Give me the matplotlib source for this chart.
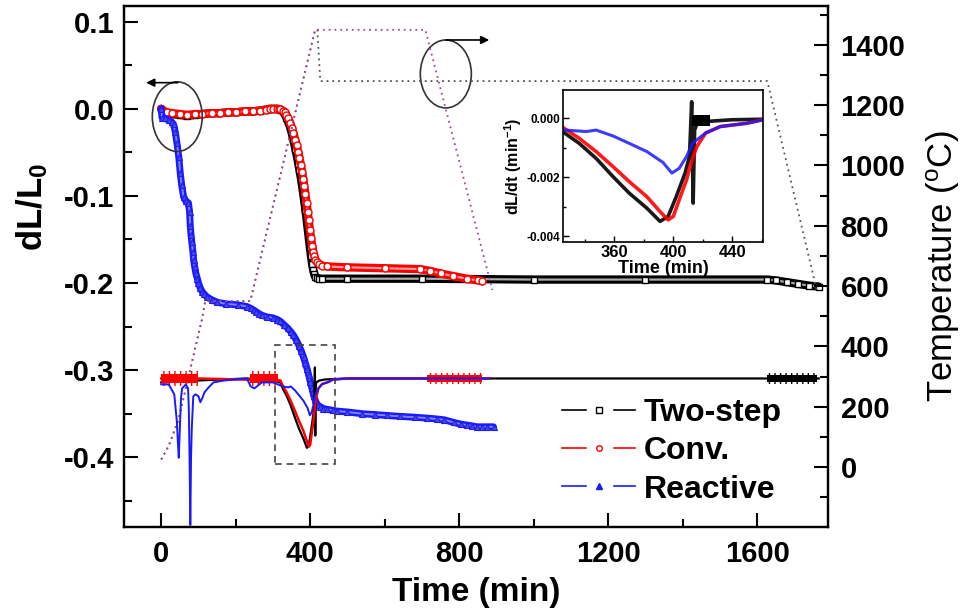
import numpy as np
import matplotlib
matplotlib.use('Agg')
import matplotlib.pyplot as plt
from matplotlib.patches import Ellipse, Rectangle
from matplotlib.lines import Line2D
from matplotlib.legend_handler import HandlerTuple
from matplotlib.ticker import MultipleLocator, FormatStrFormatter

plt.rcParams['font.family'] = ['Liberation Sans', 'DejaVu Sans']
plt.rcParams['font.weight'] = 'bold'
plt.rcParams['mathtext.fontset'] = 'custom'
plt.rcParams['mathtext.rm'] = 'Liberation Sans:bold'
plt.rcParams['mathtext.bf'] = 'Liberation Sans:bold'
plt.rcParams['mathtext.it'] = 'Liberation Sans:bold'
plt.rcParams['hatch.linewidth'] = 1.0

# ---------------- shrinkage dL/L0 ----------------
two_t = [0, 5, 15, 30, 50, 69, 90, 110, 135, 158, 180, 200, 225, 247, 265, 280, 292, 301, 310, 316,
         320, 326, 331, 336, 341, 346, 351, 355, 360, 364, 368, 371, 375, 378, 381, 384, 387, 390,
         393, 396, 399, 402, 405, 408, 411, 414, 418, 424, 432, 500, 700, 1000, 1300, 1627, 1650,
         1680, 1710, 1740, 1765]
two_v = [0.0, -0.003, -0.005, -0.006, -0.007, -0.008, -0.007, -0.006, -0.005, -0.005, -0.004, -0.004,
         -0.003, -0.003, -0.002, -0.001, 0.0, 0.0, 0.0, -0.0003,
         -0.001, -0.003, -0.006, -0.010, -0.015, -0.021, -0.029, -0.036, -0.046, -0.054, -0.063, -0.070,
         -0.080, -0.088, -0.097, -0.106, -0.116, -0.126, -0.137, -0.148, -0.159, -0.169, -0.178, -0.185,
         -0.190, -0.193, -0.194, -0.195, -0.195, -0.195, -0.195, -0.196, -0.196, -0.196, -0.197,
         -0.199, -0.201, -0.203, -0.204]

conv_t = [0, 5, 15, 30, 50, 69, 90, 110, 135, 158, 180, 200, 225, 247, 265, 280, 292, 301, 310, 316,
          320, 326, 331, 336, 341, 346, 351, 355, 360, 364, 368, 371, 375, 378, 381, 384, 387, 390,
          393, 396, 399, 402, 405, 408, 411, 414, 418, 424, 432, 445, 500, 600, 695, 722, 750, 784,
          820, 851, 862]
conv_v = [0.0, -0.002, -0.004, -0.005, -0.006, -0.007, -0.006, -0.006, -0.005, -0.005, -0.004, -0.004,
          -0.003, -0.003, -0.002, -0.001, 0.0, 0.0, 0.0, -0.0002,
          -0.0005, -0.002, -0.004, -0.007, -0.011, -0.016, -0.022, -0.028, -0.036, -0.042, -0.050,
          -0.056, -0.065, -0.072, -0.080, -0.089, -0.098, -0.108, -0.118, -0.128, -0.139, -0.148,
          -0.157, -0.164, -0.169, -0.173, -0.176, -0.178, -0.180, -0.181, -0.182, -0.183, -0.184,
          -0.186, -0.189, -0.192, -0.195, -0.197, -0.198]

reac_t = [0, 2, 10, 20, 28, 33, 38, 42, 47, 51, 55, 60, 66, 73, 76, 78, 80, 82, 85, 87, 90, 93, 97,
          100, 105, 110, 116, 123, 135, 150, 175, 205, 230, 240, 248, 255, 262, 270, 285, 300, 312,
          320, 330, 340, 348, 355, 362, 370, 376, 382, 387, 392, 396, 400, 404, 407, 410, 413, 417,
          420, 427, 435, 445, 460, 472, 500, 540, 575, 606, 640, 680, 713, 740, 760, 785, 805, 820,
          835, 847, 860, 875, 892]
reac_v = [0.0, -0.010, -0.011, -0.013, -0.015, -0.018, -0.027, -0.039, -0.055, -0.074, -0.088, -0.101,
          -0.106, -0.108, -0.118, -0.135, -0.145, -0.153, -0.164, -0.174, -0.182, -0.189, -0.195,
          -0.200, -0.206, -0.210, -0.213, -0.216, -0.219, -0.222, -0.224, -0.225, -0.227, -0.229,
          -0.231, -0.233, -0.235, -0.237, -0.239, -0.240, -0.242, -0.244, -0.248, -0.252, -0.256,
          -0.260, -0.265, -0.272, -0.278, -0.285, -0.292, -0.299, -0.306, -0.313, -0.320, -0.325,
          -0.330, -0.334, -0.338, -0.340, -0.342, -0.344, -0.345, -0.346, -0.347, -0.348, -0.350,
          -0.351, -0.352, -0.353, -0.354, -0.355, -0.356, -0.357, -0.360, -0.362, -0.363, -0.364,
          -0.365, -0.365, -0.365, -0.365]

# ---------------- temperature programmes ----------------
conv_T_t = [0, 20, 46, 80, 109, 118, 239, 413, 709, 889]
conv_T = [25, 70, 156, 335, 488, 550, 550, 1450, 1450, 587]
two_T_t = [0, 20, 46, 80, 109, 118, 239, 413, 419, 427, 1627, 1761]
two_T = [25, 70, 156, 335, 488, 550, 550, 1450, 1450, 1280, 1280, 580]

# ---------------- shrinkage rate dL/dt (min^-1) ----------------
two_r_t = [0, 100, 230, 320, 326, 336, 347.5, 359, 370, 382, 391, 396.5, 402, 408, 411, 412.5,
           413.5, 414.5, 416, 425, 440, 500, 1765]
two_r = [-0.0002, -0.0001, 0.0, -0.0002, -0.0005, -0.00085, -0.00136, -0.00198, -0.00254, -0.00305,
         -0.0035, -0.00333, -0.00266, -0.00186, -0.0013, 0.00056, -0.00288, -0.0004, -0.0002,
         -0.0001, -0.00005, 0.0, 0.0]

conv_r_t = [0, 100, 320, 326, 336, 347.5, 359, 370, 382, 391, 396.5, 400, 404, 409, 412, 416, 422,
            432, 450, 460, 500, 880]
conv_r = [0.0, 0.0, -0.0001, -0.00035, -0.00068, -0.00113, -0.00164, -0.00215, -0.00266, -0.00317,
          -0.00345, -0.00333, -0.00277, -0.00209, -0.00153, -0.00096, -0.0005, -0.00028, -0.00017,
          -0.00006, 0.0, 0.0]

reac_r_t = [0, 20, 35, 42, 44, 47, 50, 53, 56, 66, 72, 74, 76, 78, 80, 82, 86, 92, 100, 105, 110,
            116, 125, 140, 170, 230, 240, 250, 270, 300, 326, 341, 347.5, 359, 370, 382, 393, 399,
            404, 409, 413, 422, 432, 450, 460, 500, 880]
reac_r = [-0.0003, -0.0003, -0.0008, -0.0022, -0.0030, -0.0040, -0.0025, -0.0010, -0.0005, -0.0003,
          -0.0005, -0.0015, -0.0040, -0.0074, -0.0040, -0.0025, -0.0009, -0.0008, -0.0009, -0.0012,
          -0.0010, -0.0007, -0.0005, -0.0002, -0.0001, 0.0, -0.0004, -0.0005, -0.0002, -0.0002,
          -0.0004, -0.00045, -0.0004, -0.0006, -0.00085, -0.00113, -0.0015, -0.00186, -0.0017,
          -0.0013, -0.00085, -0.0005, -0.00028, -0.00017, -0.00006, 0.0, 0.0]

# noisy stretches of the rate curves (start, end, half-amplitude)
conv_noise_start = [0, 237, 713]
conv_noise_end = [100, 313, 861]
conv_noise_amp = [0.0004, 0.0004, 0.0003]
two_noise_start = [1627]
two_noise_end = [1761]
two_noise_amp = [0.0003]

x_ticks = [0, 400, 800, 1200, 1600]
y_ticks = [0.1, 0.0, -0.1, -0.2, -0.3, -0.4]
T_ticks = [0, 200, 400, 600, 800, 1000, 1200, 1400]
inset_x_ticks = [360, 400, 440]
inset_y_ticks = [-0.004, -0.002, 0.0]

labels = ['Two-step', 'Conv.', 'Reactive']

W, H = 961, 613
fig = plt.figure(figsize=(W / 100, H / 100), dpi=100)
ax = fig.add_axes([124 / W, 1 - 527 / H, (828 - 124) / W, (527 - 6) / H])
ax2 = ax.twinx()
ax3 = ax.twinx()

ax.set_xlim(-100, 1790)
ax.set_ylim(-0.48, 0.118)
ax2.set_ylim(-199, 1529)
ax3.set_ylim(-0.007495, 0.018795)
ax3.axis('off')

# temperature
ax2.plot(two_T_t, two_T, color='#555555', lw=1.3, ls=(0, (1, 2.2)))
ax2.plot(conv_T_t, conv_T, color='#a04a9a', lw=1.3, ls=(0, (1, 2.2)))

# rate curves on the hidden axis (noisy stretches drawn as a solid core + hatched fringe)
def noise(starts, ends, amps, c, z):
    for (s, e, a) in zip(starts, ends, amps):
        ax3.fill_between([s, e], [-a * 0.6, -a * 0.6], [a * 0.6, a * 0.6], color=c, lw=0, zorder=z)
        ax3.fill_between([s, e], [-a, -a], [a, a], facecolor='none', edgecolor=c, hatch='|||',
                         lw=0, zorder=z)

noise(two_noise_start, two_noise_end, two_noise_amp, 'black', 2)
ax3.plot(two_r_t, two_r, color='black', lw=1.6, zorder=2)
noise(conv_noise_start, conv_noise_end, conv_noise_amp, '#ff0000', 3)
ax3.plot(conv_r_t, conv_r, color='#ff0000', lw=1.8, zorder=3)
ax3.plot(reac_r_t, reac_r, color='#1a1aff', lw=1.4, zorder=4)

# shrinkage curves (dense open symbols look like hollow tubes)
def tube(t, v, c, light, mk, mfc, z):
    ax.plot(t, v, color=c, lw=6, zorder=z, solid_capstyle='round', solid_joinstyle='round')
    ax.plot(t, v, color=light, lw=1.6, zorder=z, alpha=0.8)
    ax.plot(t, v, ls='none', marker=mk, ms=5, mfc=mfc, mec=c, mew=1.0, zorder=z)

tube(two_t, two_v, 'black', '#d8d8d8', 's', 'white', 5)
tube(conv_t, conv_v, '#ff0000', '#ffc8c8', 'o', 'white', 6)
ax.plot(reac_t, reac_v, color='#1a1aff', lw=5, zorder=7, solid_capstyle='round')
ax.plot(reac_t, reac_v, color='#9aa0ff', lw=1.4, zorder=7, alpha=0.8)
ax.plot(reac_t, reac_v, ls='none', marker='^', ms=5, mfc='#4a4ad0', mec='#1a1aff', mew=0.8, zorder=7)

# axes styling
for a in (ax, ax2):
    for sp in a.spines.values():
        sp.set_linewidth(1.6)
ax.set_xticks(x_ticks)
ax.xaxis.set_minor_locator(MultipleLocator(200))
ax.set_yticks(y_ticks)
ax.yaxis.set_minor_locator(MultipleLocator(0.05))
ax.yaxis.set_major_formatter(FormatStrFormatter('%.1f'))
ax2.set_yticks(T_ticks)
ax2.yaxis.set_minor_locator(MultipleLocator(100))
ax.tick_params(which='both', direction='in', width=1.5, top=False, right=False)
ax.tick_params(which='major', length=10, labelsize=21, pad=7)
ax.tick_params(which='minor', length=6)
ax.tick_params(axis='x', which='major', pad=9)
ax2.tick_params(which='both', direction='in', width=1.5)
ax2.tick_params(which='major', length=10, labelsize=21, pad=9)
ax2.tick_params(which='minor', length=6)

ax.set_xlabel('Time (min)', fontsize=24, fontweight='bold', labelpad=7)
ax.set_ylabel(r'dL/L$_{\mathbf{0}}$', fontsize=25, fontweight='bold')
ax.yaxis.set_label_coords(-0.105, 0.615)
ax2.set_ylabel(r'Temperature ($\mathregular{^o}$C)', fontsize=25, fontweight='normal', labelpad=14)

# annotations
ax.add_patch(Ellipse((43, -0.009), 134, 0.080, fill=False, ec='#333333', lw=1.2, zorder=9))
ax.annotate('', xy=(-48, 0.030), xytext=(52, 0.030),
            arrowprops=dict(arrowstyle='-|>', color='black', lw=1.2, mutation_scale=12), zorder=9)
ax.add_patch(Ellipse((764, 0.040), 137, 0.078, fill=False, ec='#333333', lw=1.2, zorder=9))
ax.annotate('', xy=(888, 0.079), xytext=(757, 0.079),
            arrowprops=dict(arrowstyle='-|>', color='black', lw=1.2, mutation_scale=12), zorder=9)
ax.add_patch(Rectangle((306, -0.408), 161, 0.137, fill=False, ec='#444444', lw=1.2,
                       ls=(0, (4, 3)), zorder=9))

# legend (line broken around the symbol, Origin style)
def leg_handle(c, mk, mfc, ms):
    line = Line2D([], [], color=c, lw=1.2)
    gap = Line2D([], [], ls='none', marker='s', ms=18, mfc='white', mec='white')
    sym = Line2D([], [], ls='none', marker=mk, ms=ms, mfc=mfc, mec=c, mew=1.0)
    return (line, gap, sym)

handles = [leg_handle('black', 's', 'white', 4),
           leg_handle('#ff0000', 'o', 'white', 4),
           leg_handle('#1a1aff', '^', '#1a1aff', 5)]
ax3.legend(handles, labels, loc='upper left', bbox_to_anchor=(562 / W, 1 - 398 / H),
           bbox_transform=fig.transFigure, frameon=False, fontsize=23, handlelength=2.3,
           handletextpad=0.25, labelspacing=0.26, borderpad=0, borderaxespad=0, numpoints=1,
           handler_map={tuple: HandlerTuple(ndivide=1)})

# inset
axi = fig.add_axes([563 / W, 1 - 242 / H, 200 / W, 152 / H])
axi.set_facecolor('white')
axi.plot(two_r_t, two_r, color='black', lw=2.6, alpha=0.9)
axi.fill_between([413, 425], [-0.00025, -0.00025], [0.00012, 0.00012], color='black', lw=0)
axi.plot(conv_r_t, conv_r, color='#ff0000', lw=2.6, alpha=0.9)
axi.plot(reac_r_t, reac_r, color='#1a1aff', lw=2.2, alpha=0.85)
axi.set_xlim(325, 461)
axi.set_ylim(-0.0042, 0.00096)
axi.set_xticks(inset_x_ticks)
axi.set_yticks(inset_y_ticks)
axi.xaxis.set_minor_locator(MultipleLocator(20))
axi.yaxis.set_minor_locator(MultipleLocator(0.001))
axi.yaxis.set_major_formatter(FormatStrFormatter('%.3f'))
axi.tick_params(which='both', direction='in', width=1.0, top=False, right=False)
axi.tick_params(which='major', length=4, pad=2)
axi.tick_params(which='minor', length=2.5)
axi.tick_params(axis='x', labelsize=12)
axi.tick_params(axis='y', labelsize=8.5)
for sp in axi.spines.values():
    sp.set_linewidth(1.2)
axi.set_xlabel('Time (min)', fontsize=13, fontweight='bold', labelpad=0)
axi.set_ylabel(r'dL/dt (min$^{\mathbf{-1}}$)', fontsize=11.5, fontweight='bold', labelpad=2)

fig.savefig('out.png', dpi=100)
